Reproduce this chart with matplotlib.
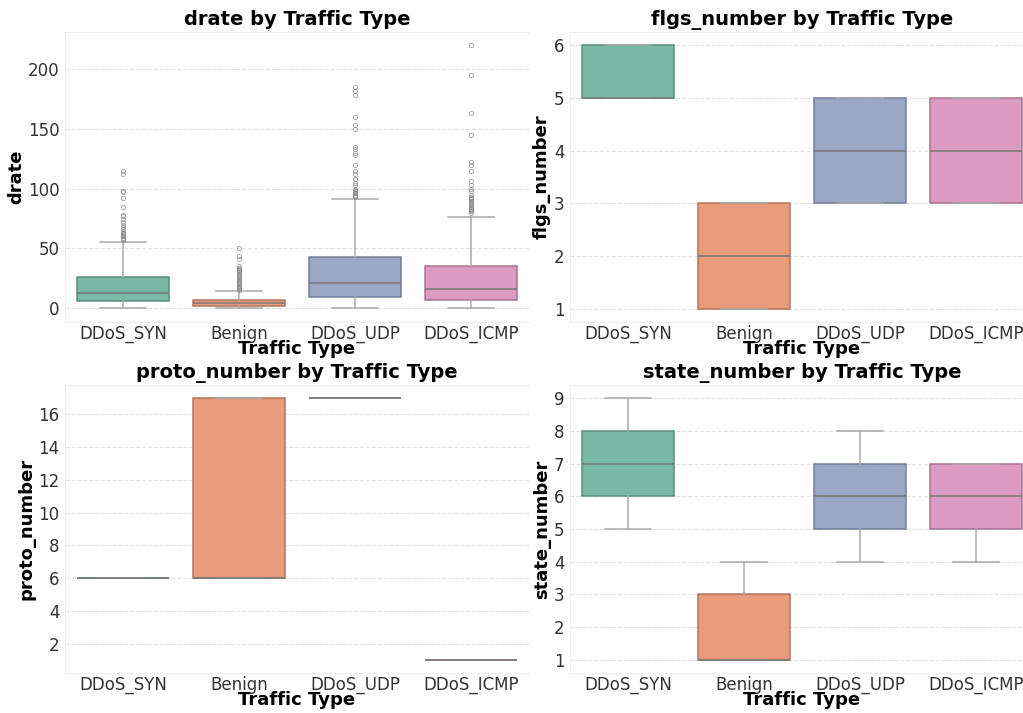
import colorsys
import matplotlib
matplotlib.use("Agg")
import matplotlib.pyplot as plt
import matplotlib.colors as mcolors

# categories and colours (Set2, seaborn-style desaturated)
traffic_types = ["DDoS_SYN", "Benign", "DDoS_UDP", "DDoS_ICMP"]
set2 = ["#66c2a5", "#fc8d62", "#8da0cb", "#e78ac3"]

# box stats per feature: q1, median, q3, lower whisker, upper whisker
drate_q1 = [6, 2, 9, 7]
drate_med = [13, 4, 21, 16.5]
drate_q3 = [26, 7, 43, 35]
drate_lo = [0, 0, 0, 0]
drate_hi = [55, 14, 91, 76]
drate_fliers = [
    [57, 58, 59, 60, 61, 62, 63, 64, 66, 68, 70, 72, 75, 77, 78, 85, 92, 97, 98, 112, 115],
    [15, 16, 17, 18, 19, 20, 21, 22, 23, 24, 25, 26, 27, 28, 29, 30, 31, 32, 33, 34, 35, 41, 44, 50],
    [93, 94, 95, 96, 97, 98, 99, 100, 103, 105, 108, 112, 115, 120, 128, 130, 133, 135,
     150, 153, 160, 178, 182, 185],
    [80, 81, 82, 83, 84, 85, 86, 87, 88, 89, 90, 91, 92, 93, 95, 98, 100, 103, 106, 115,
     120, 122, 145, 163, 195, 220],
]

flgs_q1 = [5, 1, 3, 3]
flgs_med = [5, 2, 4, 4]
flgs_q3 = [6, 3, 5, 5]
flgs_lo = [5, 1, 3, 3]
flgs_hi = [6, 3, 5, 5]

proto_q1 = [6, 6, 17, 1]
proto_med = [6, 6, 17, 1]
proto_q3 = [6, 17, 17, 1]
proto_lo = [6, 6, 17, 1]
proto_hi = [6, 17, 17, 1]

state_q1 = [6, 1, 5, 5]
state_med = [7, 1, 6, 6]
state_q3 = [8, 3, 7, 7]
state_lo = [5, 1, 4, 4]
state_hi = [9, 4, 8, 7]


def desat(c, prop=0.75):
    r, g, b = mcolors.to_rgb(c)
    h, l, s = colorsys.rgb_to_hls(r, g, b)
    return colorsys.hls_to_rgb(h, l, s * prop)


colors = [desat(c) for c in set2]


def make_stats(q1, med, q3, lo, hi, fliers=None):
    stats = []
    for i in range(len(q1)):
        stats.append({
            "q1": q1[i], "med": med[i], "q3": q3[i],
            "whislo": lo[i], "whishi": hi[i],
            "fliers": fliers[i] if fliers else [],
        })
    return stats


def draw(ax, stats, title, ylabel, ylim, yticks):
    bp = ax.bxp(stats, positions=range(len(stats)), widths=0.8, patch_artist=True,
                showfliers=True,
                boxprops=dict(linewidth=1.1),
                medianprops=dict(color="#777777", linewidth=1.1),
                whiskerprops=dict(color="#aaaaaa", linewidth=1.1),
                capprops=dict(color="#aaaaaa", linewidth=1.1),
                flierprops=dict(marker="o", markersize=3, markerfacecolor="none",
                                markeredgecolor="#888888", markeredgewidth=0.6, alpha=0.8))
    for patch, c in zip(bp["boxes"], colors):
        patch.set_facecolor(c)
        patch.set_edgecolor(tuple(v * 0.75 for v in c))
        patch.set_alpha(0.95)
    ax.set_xlim(-0.5, len(stats) - 0.5)
    ax.set_ylim(*ylim)
    ax.set_yticks(yticks)
    ax.set_xticks(range(len(traffic_types)))
    ax.set_xticklabels(traffic_types)
    ax.set_title(title, fontsize=14, fontweight="bold", pad=5)
    ax.set_xlabel("Traffic Type", fontsize=13, fontweight="bold", labelpad=-2)
    ax.set_ylabel(ylabel, fontsize=13, fontweight="bold", labelpad=2)
    ax.tick_params(axis="x", length=0, labelsize=12, labelcolor="#333333", pad=2)
    ax.tick_params(axis="y", length=0, labelsize=12, labelcolor="#333333", pad=4)
    ax.grid(axis="y", linestyle="--", color="#e0e0e0", linewidth=0.8)
    ax.set_axisbelow(True)
    for s in ax.spines.values():
        s.set_color("#eeeeee")
    ax.spines["right"].set_visible(False)


fig = plt.figure(figsize=(10.23, 7.13), dpi=100)
w = 0.4536
ax1 = fig.add_axes([0.0635, 0.5484, w, 0.4067])
ax2 = fig.add_axes([0.5572, 0.5484, w, 0.4067])
ax3 = fig.add_axes([0.0635, 0.0561, w, 0.404])
ax4 = fig.add_axes([0.5572, 0.0561, w, 0.404])

draw(ax1, make_stats(drate_q1, drate_med, drate_q3, drate_lo, drate_hi, drate_fliers),
     "drate by Traffic Type", "drate", (-11.5, 231), [0, 50, 100, 150, 200])
draw(ax2, make_stats(flgs_q1, flgs_med, flgs_q3, flgs_lo, flgs_hi),
     "flgs_number by Traffic Type", "flgs_number", (0.75, 6.25), [1, 2, 3, 4, 5, 6])
draw(ax3, make_stats(proto_q1, proto_med, proto_q3, proto_lo, proto_hi),
     "proto_number by Traffic Type", "proto_number", (0.2, 17.8), [2, 4, 6, 8, 10, 12, 14, 16])
draw(ax4, make_stats(state_q1, state_med, state_q3, state_lo, state_hi),
     "state_number by Traffic Type", "state_number", (0.6, 9.4), list(range(1, 10)))

fig.savefig("out.png", dpi=100)
